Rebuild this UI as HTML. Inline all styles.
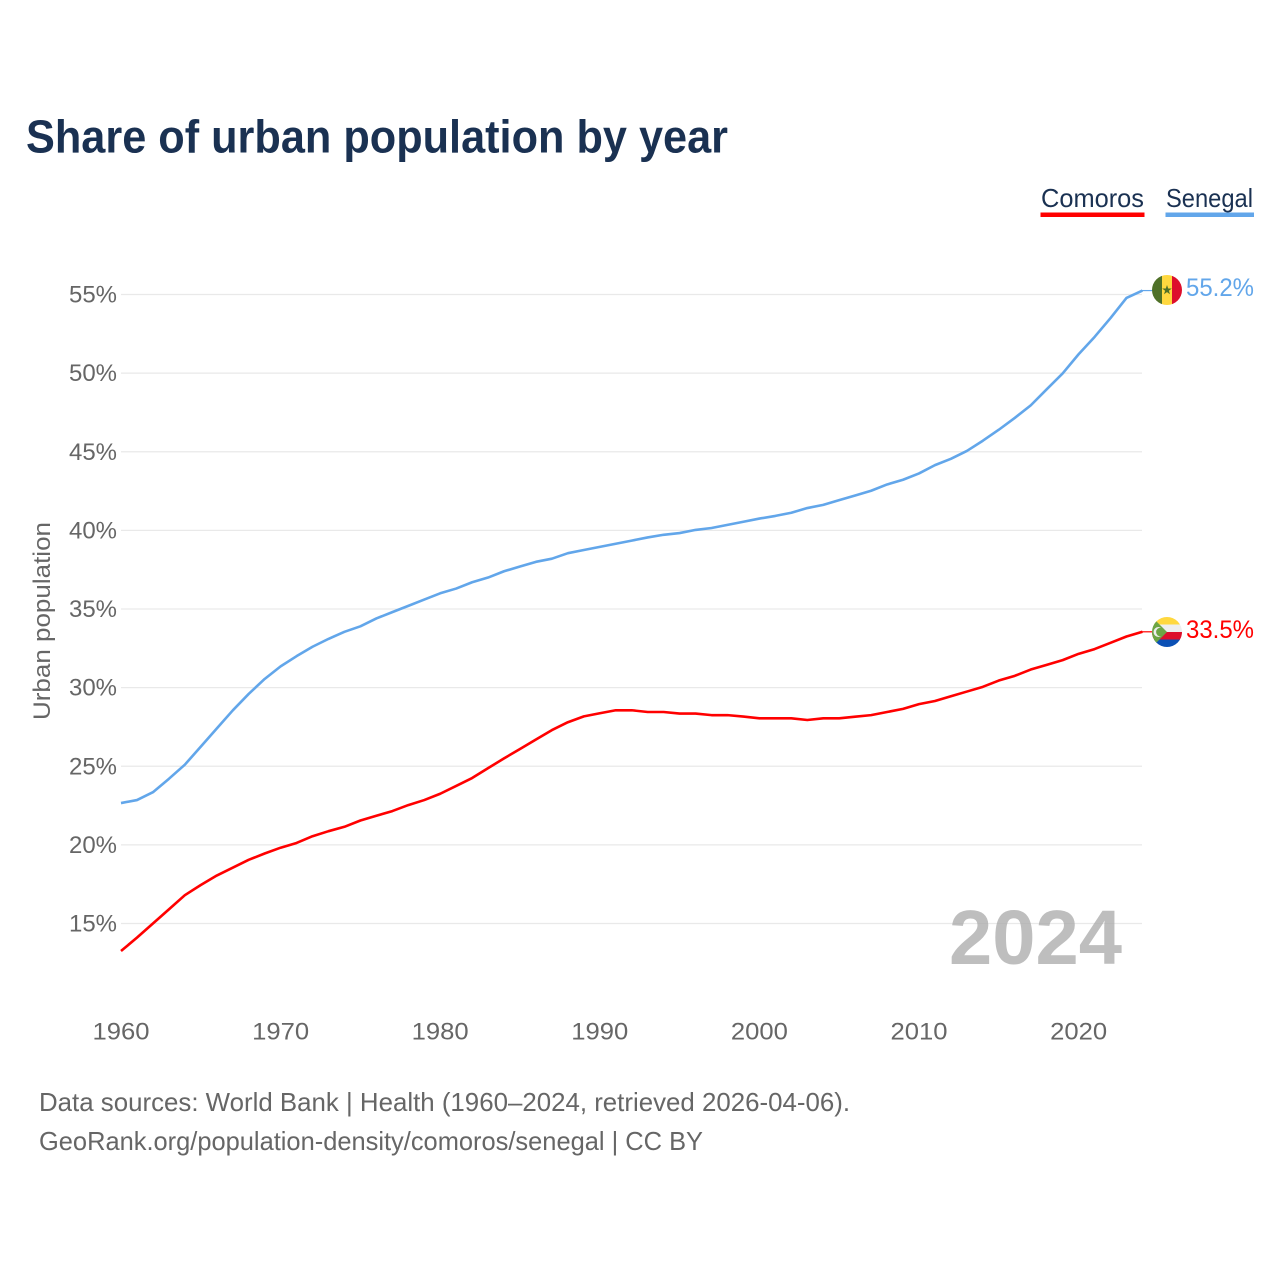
<!DOCTYPE html>
<html lang="en">
<head>
<meta charset="utf-8">
<title>Share of urban population by year</title>
<style>
html,body{margin:0;padding:0;background:#fff;}
svg{display:block;font-family:"Liberation Sans",sans-serif;}
</style>
</head>
<body>
<svg id="chart" xmlns="http://www.w3.org/2000/svg" width="1280" height="1280" viewBox="0 0 1280 1280">
  <defs>
    <clipPath id="clip-sn"><circle cx="1167" cy="290" r="15"/></clipPath>
    <clipPath id="clip-km"><circle cx="1167" cy="632" r="15"/></clipPath>
  </defs>
  <rect width="1280" height="1280" fill="#ffffff"/>
  <text x="26" y="152.5" font-size="46" font-weight="700" fill="#1a3152" textLength="702" lengthAdjust="spacingAndGlyphs">Share of urban population by year</text>

  <g id="grid"></g>
  <g id="yticks"></g>
  <g id="xticks"></g>
  <text transform="translate(50,621) rotate(-90)" text-anchor="middle" font-size="24" fill="#666666" textLength="198" lengthAdjust="spacingAndGlyphs">Urban population</text>

  <text x="949" y="964" font-size="77" font-weight="700" fill="#a8a8a8" fill-opacity="0.75" textLength="173" lengthAdjust="spacingAndGlyphs">2024</text>

  <g id="series"></g>

  <g>
    <g>
      <text x="1041" y="207" font-size="26" fill="#1a3152" textLength="103" lengthAdjust="spacingAndGlyphs">Comoros</text>
      <rect x="1040.5" y="212.5" width="104" height="4.5" fill="#ff0000"/>
    </g>
    <g>
      <text x="1166" y="207" font-size="26" fill="#1a3152" textLength="87" lengthAdjust="spacingAndGlyphs">Senegal</text>
      <rect x="1165.5" y="212.5" width="88.5" height="4.5" fill="#62a6ea"/>
    </g>
  </g>

  <g clip-path="url(#clip-sn)">
    <rect x="1152" y="275" width="10" height="30" fill="#4f7128"/>
    <rect x="1162" y="275" width="10" height="30" fill="#ffd83f"/>
    <rect x="1172" y="275" width="10" height="30" fill="#dd0f2c"/>
    <polygon points="1167,285 1168.2,288.5 1171.8,288.5 1168.9,290.7 1170,294.2 1167,292.1 1164,294.2 1165.1,290.7 1162.2,288.5 1165.8,288.5" fill="#4f7128"/>
  </g>
  <g clip-path="url(#clip-km)">
    <rect x="1152" y="617" width="30" height="8" fill="#ffd83f"/>
    <rect x="1152" y="624.5" width="30" height="8" fill="#eeeeee"/>
    <rect x="1152" y="632" width="30" height="8" fill="#dd0f2c"/>
    <rect x="1152" y="639.5" width="30" height="8" fill="#0b50b5"/>
    <polygon points="1152,617 1167,632 1152,647" fill="#6da544"/>
    <circle cx="1158.5" cy="632" r="5" fill="#eeeeee"/>
    <circle cx="1160.5" cy="632" r="4.4" fill="#6da544"/>
  </g>

  <text x="1186" y="296" font-size="25" fill="#62a6ea" textLength="68" lengthAdjust="spacingAndGlyphs">55.2%</text>
  <text x="1186" y="638" font-size="25" fill="#ff0000" textLength="68" lengthAdjust="spacingAndGlyphs">33.5%</text>

  <text x="39" y="1111" font-size="26" fill="#666666" textLength="811" lengthAdjust="spacingAndGlyphs">Data sources: World Bank | Health (1960–2024, retrieved 2026-04-06).</text>
  <text x="39" y="1150" font-size="26" fill="#666666" textLength="664" lengthAdjust="spacingAndGlyphs">GeoRank.org/population-density/comoros/senegal | CC BY</text>
</svg>
<script>
const startYear = 1960;
const yTickValues = [15, 20, 25, 30, 35, 40, 45, 50, 55];
const yTickLabels = ['15%', '20%', '25%', '30%', '35%', '40%', '45%', '50%', '55%'];
const xTickValues = [1960, 1970, 1980, 1990, 2000, 2010, 2020];
const xTickLabels = ['1960', '1970', '1980', '1990', '2000', '2010', '2020'];
const senegalValues = [22.66, 22.85, 23.35, 24.2, 25.1, 26.25, 27.4, 28.55, 29.6, 30.55,
  31.35, 32.0, 32.6, 33.1, 33.55, 33.9, 34.4, 34.8, 35.2, 35.6,
  36.0, 36.3, 36.7, 37.0, 37.4, 37.7, 38.0, 38.2, 38.55, 38.75,
  38.95, 39.15, 39.35, 39.55, 39.72, 39.83, 40.03, 40.15, 40.35, 40.55,
  40.75, 40.92, 41.12, 41.42, 41.62, 41.92, 42.22, 42.52, 42.92, 43.22,
  43.62, 44.15, 44.55, 45.05, 45.7, 46.4, 47.15, 47.95, 48.97, 49.98,
  51.2, 52.3, 53.5, 54.78, 55.25];
const comorosValues = [13.25, 14.1, 15.0, 15.9, 16.8, 17.45, 18.05, 18.55, 19.05, 19.45,
  19.82, 20.12, 20.55, 20.87, 21.15, 21.55, 21.85, 22.15, 22.53, 22.85,
  23.25, 23.75, 24.25, 24.88, 25.5, 26.1, 26.7, 27.3, 27.8, 28.17,
  28.37, 28.56, 28.56, 28.45, 28.45, 28.35, 28.35, 28.25, 28.25, 28.16,
  28.05, 28.05, 28.05, 27.94, 28.05, 28.05, 28.15, 28.25, 28.45, 28.65,
  28.95, 29.15, 29.45, 29.75, 30.05, 30.45, 30.75, 31.15, 31.45, 31.75,
  32.15, 32.45, 32.85, 33.25, 33.55];

const NS = 'http://www.w3.org/2000/svg';
const plotLeft = 121, plotRight = 1142;
const xScale = year => 121 + (year - 1960) * 15.96;
const yScale = value => 923.5 - (value - 15) * 15.725;

function make(tag, attrs, parent) {
  const el = document.createElementNS(NS, tag);
  for (const k in attrs) el.setAttribute(k, attrs[k]);
  parent.appendChild(el);
  return el;
}

const grid = document.getElementById('grid');
const yticks = document.getElementById('yticks');
yTickValues.forEach((v, i) => {
  const line = make('line', {x1: plotLeft, x2: plotRight, y1: yScale(v), y2: yScale(v), stroke: '#e9e9e9', 'stroke-width': 1.3}, grid);
  
  
  const t = make('text', {x: 117, y: yScale(v) + 8, 'text-anchor': 'end', 'font-size': 24, fill: '#666666', textLength: 48, lengthAdjust: 'spacingAndGlyphs'}, yticks);
  
  
  t.textContent = yTickLabels[i];
});

const xticks = document.getElementById('xticks');
xTickValues.forEach((v, i) => {
  const t = make('text', {x: xScale(v), y: 1039.5, 'text-anchor': 'middle', 'font-size': 24, fill: '#666666', textLength: 57, lengthAdjust: 'spacingAndGlyphs'}, xticks);
  
  
  t.textContent = xTickLabels[i];
});

const seriesGroup = document.getElementById('series');
function drawSeries(values, color, name) {
  const pts = values.map((v, i) => xScale(startYear + i).toFixed(2) + ',' + yScale(v).toFixed(2));
  const line = make('polyline', {points: pts.join(' '), fill: 'none', stroke: color, 'stroke-width': 2.6, 'stroke-linejoin': 'round'}, seriesGroup);
  
  
  const lastY = yScale(values[values.length - 1]);
  const conn = make('line', {x1: plotRight, x2: 1153, y1: lastY, y2: lastY, stroke: color, 'stroke-width': 1.2}, seriesGroup);
  
  
}
drawSeries(senegalValues, '#62a6ea', 'senegal-line');
drawSeries(comorosValues, '#ff0000', 'comoros-line');
</script>
</body>
</html>
